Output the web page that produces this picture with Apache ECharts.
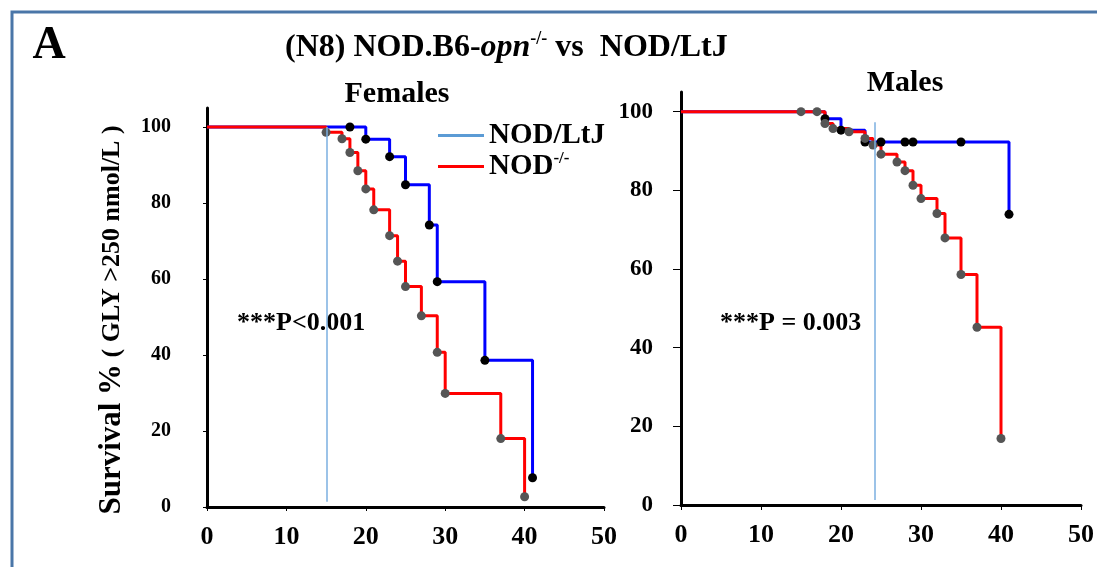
<!DOCTYPE html>
<html>
<head>
<meta charset="utf-8">
<script src="https://cdn.jsdelivr.net/npm/echarts@6/dist/echarts.min.js"></script>
<style>
  html, body { margin: 0; padding: 0; background: #fff; }
  #chart { width: 1097px; height: 567px; }
</style>
</head>
<body>
<div id="chart"></div>
<script>
// weeks of age vs survival %
const xTicks = [0, 10, 20, 30, 40, 50]
const yTicks = [0, 20, 40, 60, 80, 100]

// Females
const femaleLtjX = [0, 18, 20, 23, 25, 28, 29, 35, 41]
const femaleLtjY = [100, 100, 96.8, 92.2, 84.8, 74.2, 59.3, 38.6, 7.7]
const femaleKoX = [0, 15, 17, 18, 19, 20, 21, 23, 24, 25, 27, 29, 30, 37, 40]
const femaleKoY = [100, 98.6, 96.9, 93.3, 88.5, 83.7, 78.2, 71.4, 64.7, 58.0, 50.3, 40.7, 29.9, 18.0, 2.7]
const femaleCut = [15.05, 100, 1.4]

// Males
const maleLtjX = [0, 18, 20, 23, 25, 28, 29, 35, 41]
const maleLtjY = [100, 98.2, 95.3, 92.3, 92.3, 92.3, 92.3, 92.3, 73.9]
const maleKoX = [0, 15, 17, 18, 19, 21, 23, 24, 25, 27, 28, 29, 30, 32, 33, 35, 37, 40]
const maleKoY = [100, 100, 100, 97.0, 95.7, 94.9, 93.2, 91.5, 89.2, 87.2, 85.0, 81.3, 77.9, 74.1, 67.9, 58.6, 45.2, 16.9]
const maleCut = [24.2, 97.3, 1.3]

const SERIF = "'Liberation Serif', 'Times New Roman', serif"

const chart = echarts.init(document.getElementById('chart'))

function kmSeries(name, xs, ys, idx, color, dotColor) {
  return {
    name: name,
    type: 'line',
    step: 'end',
    xAxisIndex: idx,
    yAxisIndex: idx,
    animation: false,
    symbol: 'circle',
    symbolSize: 9,
    data: xs.map((x, i) => ({ value: [x, ys[i]], symbol: i === 0 ? 'none' : 'circle' })),
    lineStyle: { color: color, width: 3 },
    itemStyle: { color: dotColor },
    emphasis: { disabled: true }
  }
}

function cutLine(c) {
  return {
    symbol: 'none',
    silent: true,
    label: { show: false },
    lineStyle: { color: '#7bafe0', width: 1.5, type: 'solid' },
    data: [[{ coord: [c[0], c[1]] }, { coord: [c[0], c[2]] }]]
  }
}

function xAxisOf(idx, tickLen) {
  return {
    type: 'value', gridIndex: idx, min: 0, max: 50, interval: 10,
    splitLine: { show: false },
    axisLine: { lineStyle: { color: '#000', width: 3 } },
    axisTick: { show: true, length: tickLen, customValues: xTicks, lineStyle: { color: '#000', width: 1 } },
    axisLabel: { customValues: xTicks, margin: 17, color: '#000', fontFamily: SERIF, fontWeight: 'bold', fontSize: 26 }
  }
}

function yAxisOf(idx, tickLen, margin, fs) {
  return {
    type: 'value', gridIndex: idx, min: 0, max: 105,
    splitLine: { show: false },
    axisLine: { show: true, lineStyle: { color: '#000', width: 3 } },
    axisTick: { show: true, length: tickLen, customValues: yTicks, lineStyle: { color: '#000', width: 1 } },
    axisLabel: { customValues: yTicks, margin: margin, color: '#000', fontFamily: SERIF, fontWeight: 'bold', fontSize: fs }
  }
}

const series = [
  kmSeries('NOD/LtJ', femaleLtjX, femaleLtjY, 0, '#0000ff', '#000000'),
  kmSeries('NOD-/-', femaleKoX, femaleKoY, 0, '#ff0000', '#555555'),
  kmSeries('NOD/LtJ', maleLtjX, maleLtjY, 1, '#0000ff', '#000000'),
  kmSeries('NOD-/-', maleKoX, maleKoY, 1, '#ff0000', '#555555')
]
series[1].markLine = cutLine(femaleCut)
series[3].markLine = cutLine(maleCut)

chart.setOption({
  backgroundColor: '#fff',
  animation: false,
  grid: [
    { left: 207, top: 108, width: 397, height: 399 },
    { left: 681, top: 92, width: 404, height: 413 }
  ],
  xAxis: [xAxisOf(0, 4), xAxisOf(1, 5)],
  yAxis: [yAxisOf(0, 4, 36, 20), yAxisOf(1, 8, 28, 23)],
  legend: {
    orient: 'vertical',
    left: 433,
    top: 116,
    itemGap: 0,
    itemWidth: 46,
    itemHeight: 3,
    icon: 'rect',
    selectedMode: false,
    data: [
      { name: 'NOD/LtJ', itemStyle: { color: '#5b9bd5' } },
      { name: 'NOD-/-', itemStyle: { color: '#ff0000' } }
    ],
    formatter: function (name) {
      return name === 'NOD-/-' ? '{b|NOD}{s|-/-}' : '{b|NOD/LtJ}'
    },
    textStyle: {
      rich: {
        b: { fontFamily: SERIF, fontWeight: 'bold', fontSize: 29, lineHeight: 33, color: '#000' },
        s: { fontFamily: SERIF, fontWeight: 'bold', fontSize: 17, lineHeight: 33, color: '#000', verticalAlign: 'top', padding: [0, 0, 12, 0] }
      }
    }
  },
  graphic: [
    // panel frame
    {
      type: 'rect', silent: true,
      shape: { x: 12, y: 12, width: 1100, height: 580 },
      style: { fill: 'none', stroke: '#4a76a8', lineWidth: 3 }
    },
    {
      type: 'text', x: 49, y: 46,
      style: { text: 'A', fill: '#000', fontFamily: SERIF, fontWeight: 'bold', fontSize: 46, align: 'center', verticalAlign: 'middle' }
    },
    {
      type: 'text', x: 285, y: 48,
      style: {
        text: '{b|(N8) NOD.B6-}{i|opn}{s|-/-}{b| vs  NOD/LtJ}',
        align: 'left', verticalAlign: 'middle',
        rich: {
          b: { fontFamily: SERIF, fontWeight: 'bold', fontSize: 32, lineHeight: 36, fill: '#000' },
          i: { fontFamily: SERIF, fontWeight: 'bold', fontStyle: 'italic', fontSize: 32, lineHeight: 36, fill: '#000' },
          s: { fontFamily: SERIF, fontWeight: 'bold', fontSize: 18, lineHeight: 36, fill: '#000', verticalAlign: 'top', padding: [0, 0, 15, 0] }
        }
      }
    },
    {
      type: 'text', x: 397, y: 94,
      style: { text: 'Females', fill: '#000', fontFamily: SERIF, fontWeight: 'bold', fontSize: 30, align: 'center', verticalAlign: 'middle' }
    },
    {
      type: 'text', x: 905, y: 83,
      style: { text: 'Males', fill: '#000', fontFamily: SERIF, fontWeight: 'bold', fontSize: 30, align: 'center', verticalAlign: 'middle' }
    },
    {
      type: 'text', x: 237, y: 323,
      style: { text: '***P<0.001', fill: '#000', fontFamily: SERIF, fontWeight: 'bold', fontSize: 26, align: 'left', verticalAlign: 'middle' }
    },
    {
      type: 'text', x: 720, y: 323,
      style: { text: '***P = 0.003', fill: '#000', fontFamily: SERIF, fontWeight: 'bold', fontSize: 26, align: 'left', verticalAlign: 'middle' }
    },
    {
      type: 'text', x: 112, y: 320, rotation: Math.PI / 2,
      style: {
        text: '{a|Survival %}{c| ( GLY >250 nmol/L )}',
        align: 'center', verticalAlign: 'middle',
        rich: {
          a: { fontFamily: SERIF, fontWeight: 'bold', fontSize: 31, fill: '#000' },
          c: { fontFamily: SERIF, fontWeight: 'bold', fontSize: 26, fill: '#000' }
        }
      }
    }
  ],
  series: series
})
</script>
</body>
</html>
